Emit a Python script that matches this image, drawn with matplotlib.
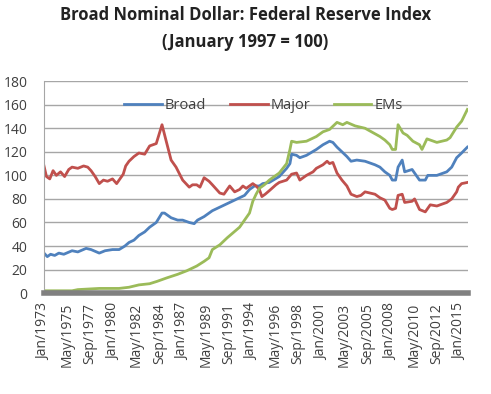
import matplotlib
matplotlib.use("Agg")
import matplotlib.pyplot as plt

# Broad nominal dollar index, Jan 1997 = 100
broad_dates = ["1973-01", "1973-05", "1973-09", "1974-02", "1974-07", "1975-01", "1975-11",
               "1976-06", "1977-04", "1977-10", "1978-08", "1979-03", "1979-12", "1980-08",
               "1981-03", "1981-08", "1982-02", "1982-08", "1983-03", "1983-09", "1984-05",
               "1984-12", "1985-03", "1985-11", "1986-07", "1987-01", "1987-09", "1988-03",
               "1988-07", "1989-03", "1990-01", "1990-10", "1991-07", "1991-10", "1992-10",
               "1993-04", "1993-10", "1994-04", "1994-10", "1995-02", "1995-10", "1996-10",
               "1997-07", "1997-11", "1998-01", "1998-07", "1998-11", "1999-07", "2000-07",
               "2001-03", "2001-11", "2002-03", "2002-08", "2003-08", "2004-01", "2004-08",
               "2005-06", "2006-06", "2006-12", "2007-06", "2007-12", "2008-03", "2008-07",
               "2008-10", "2009-03", "2009-06", "2010-03", "2010-12", "2011-07", "2011-10",
               "2012-09", "2013-09", "2014-03", "2014-09", "2015-03", "2015-10"]
broad = [34, 31, 33, 32, 34, 33, 36,
         35, 38, 37, 34, 36, 37, 37,
         40, 43, 45, 49, 52, 56, 60,
         68, 68, 64, 62, 62, 60, 59,
         62, 65, 70, 73, 76, 77, 81,
         83, 88, 91, 91, 93, 94, 99,
         106, 110, 118, 117, 115, 117, 122,
         126, 129, 128, 124, 116, 112, 113,
         112, 109, 107, 103, 100, 96, 96,
         107, 113, 103, 105, 96, 96, 100,
         100, 103, 107, 115, 119, 124]

major_dates = ["1973-01", "1973-04", "1973-08", "1973-12", "1974-04", "1974-09", "1975-02",
               "1975-07", "1975-11", "1976-06", "1977-01", "1977-06", "1977-10", "1978-03",
               "1978-08", "1979-01", "1979-06", "1979-12", "1980-05", "1980-09", "1981-01",
               "1981-04", "1981-08", "1982-02", "1982-08", "1983-03", "1983-09", "1984-05",
               "1984-12", "1985-04", "1985-11", "1986-05", "1987-01", "1987-09", "1988-01",
               "1988-06", "1988-10", "1989-03", "1989-09", "1990-01", "1990-10", "1991-03",
               "1991-07", "1991-10", "1992-04", "1992-10", "1993-02", "1993-06", "1993-10",
               "1994-02", "1994-06", "1994-10", "1995-01", "1995-05", "1995-10", "1996-06",
               "1996-10", "1997-07", "1998-01", "1998-07", "1998-11", "1999-07", "2000-03",
               "2000-07", "2001-03", "2001-08", "2001-11", "2002-03", "2002-08", "2003-02",
               "2003-08", "2004-01", "2004-08", "2005-01", "2005-06", "2006-06", "2006-12",
               "2007-06", "2007-12", "2008-03", "2008-07", "2008-10", "2009-03", "2009-06",
               "2010-03", "2010-06", "2010-12", "2011-07", "2012-01", "2012-09", "2013-09",
               "2014-03", "2014-09", "2014-11", "2015-03", "2015-10"]
major = [108, 99, 97, 104, 100, 103, 99,
         105, 107, 106, 108, 107, 104, 99,
         93, 96, 95, 97, 93, 97, 101,
         108, 112, 116, 119, 118, 125, 127,
         143, 132, 113, 107, 96, 90, 92,
         92, 90, 98, 95, 92, 85, 84,
         88, 91, 86, 88, 91, 89, 91,
         93, 91, 88, 82, 84, 87, 92,
         94, 96, 101, 102, 96, 100, 103,
         106, 109, 112, 110, 111, 102, 96,
         91, 84, 82, 83, 86, 84, 81,
         79, 72, 71, 72, 83, 84, 77,
         78, 80, 71, 69, 75, 74, 77,
         80, 86, 90, 93, 94]

ems_dates = ["1973-01", "1975-11", "1976-06", "1978-08", "1980-08", "1981-08", "1982-08",
             "1983-09", "1984-06", "1985-06", "1986-07", "1987-06", "1988-06", "1989-03",
             "1989-09", "1990-01", "1990-10", "1991-07", "1992-10", "1993-10", "1994-02",
             "1994-06", "1994-10", "1995-04", "1995-10", "1996-10", "1997-07", "1997-11",
             "1998-01", "1998-07", "1999-07", "2000-07", "2001-03", "2001-11", "2002-08",
             "2003-03", "2003-08", "2004-06", "2005-06", "2006-12", "2007-06", "2007-12",
             "2008-03", "2008-07", "2008-10", "2009-04", "2009-09", "2010-04", "2010-12",
             "2011-03", "2011-09", "2012-09", "2013-09", "2014-01", "2014-09", "2015-03",
             "2015-10"]
ems = [2, 2, 3, 4, 4, 5, 7,
       8, 10, 13, 16, 19, 23, 27,
       30, 37, 41, 47, 56, 68, 78,
       84, 89, 92, 96, 102, 110, 122,
       129, 128, 129, 133, 137, 139, 145,
       143, 145, 142, 140, 133, 130, 126,
       122, 122, 143, 136, 134, 129, 126,
       122, 131, 128, 130, 132, 141, 146,
       156]

tick_labels = ["Jan/1973", "May/1975", "Sep/1977", "Jan/1980", "May/1982", "Sep/1984",
               "Jan/1987", "May/1989", "Sep/1991", "Jan/1994", "May/1996", "Sep/1998",
               "Jan/2001", "May/2003", "Sep/2005", "Jan/2008", "May/2010", "Sep/2012",
               "Jan/2015"]


def months(dates):
    # months since Jan 1973
    out = []
    for d in dates:
        y, m = d.split("-")
        out.append((int(y) - 1973) * 12 + int(m) - 1)
    return out


plt.rcParams["font.family"] = ["Open Sans", "DejaVu Sans"]
txt = "#404040"

fig = plt.figure(figsize=(4.91, 3.94), dpi=100)
ax = fig.add_axes([0.0896, 0.256, 0.864, 0.538])

ax.plot(months(broad_dates), broad, color="#4F81BD", lw=2, label="Broad")
ax.plot(months(major_dates), major, color="#C0504D", lw=2, label="Major")
ax.plot(months(ems_dates), ems, color="#9BBB59", lw=2, label="EMs")

ax.set_ylim(0, 180)
ax.set_yticks(range(0, 181, 20))
ax.set_xlim(0, 514)
ax.set_xticks([i * 28 for i in range(len(tick_labels))])
ax.set_xticklabels(tick_labels, rotation=90)
ax.tick_params(axis="both", length=0, labelsize=10, labelcolor=txt)
ax.tick_params(axis="y", pad=12)
ax.tick_params(axis="x", pad=7)

ax.grid(axis="y", color="#a6a6a6", lw=1)
ax.set_axisbelow(True)
for s in ["top", "right"]:
    ax.spines[s].set_visible(False)
ax.spines["left"].set_color("#a6a6a6")
ax.spines["bottom"].set_color("#808080")
ax.spines["bottom"].set_linewidth(4)

ax.legend(loc="center", bbox_to_anchor=(0.517, 0.887), ncol=3, frameon=False,
          fontsize=10.5, handlelength=2.6, handletextpad=0.2, columnspacing=1.6,
          labelcolor=txt)

fig.text(0.5, 0.962, "Broad Nominal Dollar: Federal Reserve Index", ha="center",
         va="center", fontsize=12, fontweight="bold", color="#222222")
fig.text(0.5, 0.893, "(January 1997 = 100)", ha="center", va="center",
         fontsize=12, fontweight="bold", color="#222222")

fig.savefig("out.png", dpi=100)
